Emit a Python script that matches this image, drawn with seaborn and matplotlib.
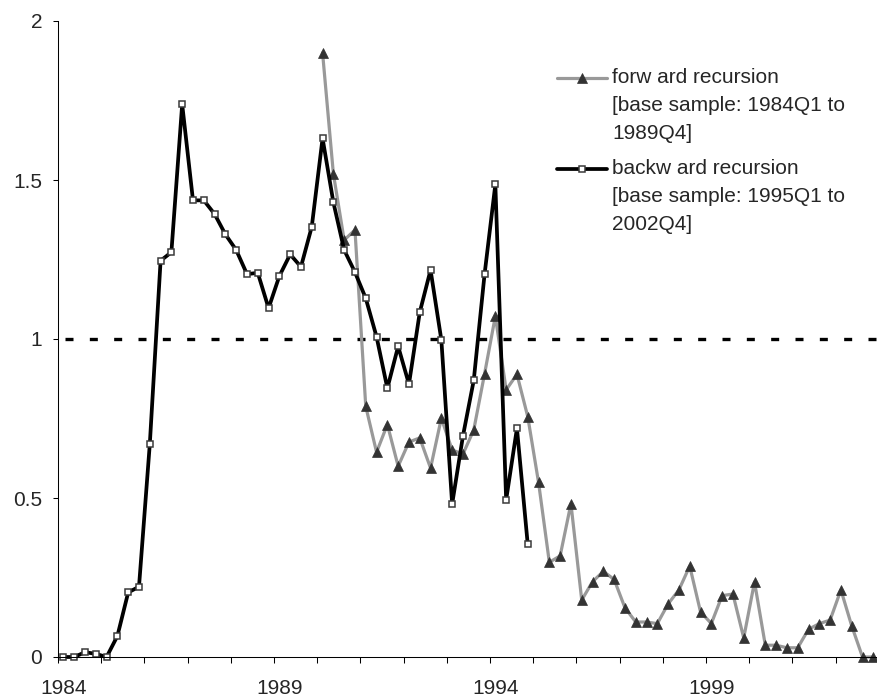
import numpy as np
import pandas as pd
import matplotlib
matplotlib.use("Agg")
import matplotlib.pyplot as plt
import seaborn as sns

# quarters are indexed 0 = 1984Q1 ... 75 = 2002Q4
year_ticks = [0, 20, 40, 60]
year_labels = ["1984", "1989", "1994", "1999"]
n_quarters = 76

# forward recursion, 1990Q1 .. 2002Q4
forward_start = 24
forward = [1.90, 1.52, 1.311, 1.343, 0.788, 0.644, 0.731, 0.600, 0.676, 0.689,
           0.594, 0.751, 0.651, 0.638, 0.714, 0.890, 1.072, 0.840, 0.889, 0.756,
           0.549, 0.298, 0.318, 0.482, 0.179, 0.237, 0.269, 0.244, 0.155, 0.110,
           0.110, 0.105, 0.167, 0.211, 0.286, 0.142, 0.105, 0.193, 0.198, 0.060,
           0.236, 0.037, 0.037, 0.029, 0.029, 0.087, 0.105, 0.116, 0.211, 0.098,
           0.0, 0.0]

# backward recursion, 1984Q1 .. 1994Q4
backward_start = 0
backward = [0.0, 0.0, 0.015, 0.01, 0.0, 0.066, 0.203, 0.221, 0.669, 1.246,
            1.273, 1.738, 1.436, 1.436, 1.393, 1.329, 1.280, 1.204, 1.208, 1.097,
            1.198, 1.266, 1.227, 1.353, 1.631, 1.430, 1.280, 1.210, 1.128, 1.007,
            0.845, 0.977, 0.858, 1.084, 1.217, 0.997, 0.481, 0.695, 0.870, 1.203,
            1.486, 0.494, 0.719, 0.354]

fwd_label = "forw ard recursion\n[base sample: 1984Q1 to\n1989Q4]"
bwd_label = "backw ard recursion\n[base sample: 1995Q1 to\n2002Q4]"

df_fwd = pd.DataFrame({"q": np.arange(forward_start, forward_start + len(forward)), "v": forward})
df_bwd = pd.DataFrame({"q": np.arange(backward_start, backward_start + len(backward)), "v": backward})

sns.set_style("ticks")
plt.rcParams["font.family"] = ["Liberation Sans", "DejaVu Sans"]
plt.rcParams["axes.edgecolor"] = "black"

fig = plt.figure(figsize=(8.77, 6.98), dpi=100)
ax = fig.add_axes([58 / 877, 41 / 698, 820.7 / 877, 636 / 698])

ax.axhline(1, color="black", linewidth=2.4, linestyle=(5.2, (2.4, 4.9)), zorder=1.5)

sns.lineplot(data=df_fwd, x="q", y="v", ax=ax, color="#999999", linewidth=2.3,
             marker="^", markersize=6.5, markerfacecolor="#333333",
             markeredgecolor="#333333", markeredgewidth=0.5,
             label=fwd_label, clip_on=False)
sns.lineplot(data=df_bwd, x="q", y="v", ax=ax, color="black", linewidth=2.7,
             marker="s", markersize=4.4, markerfacecolor="white",
             markeredgecolor="#3a3a3a", markeredgewidth=1.1,
             label=bwd_label, clip_on=False)

ax.set_xlim(-0.5, n_quarters - 0.5)
ax.set_ylim(0, 2)
ax.set_xlabel("")
ax.set_ylabel("")

ax.set_xticks(year_ticks, labels=year_labels)
ax.set_xticks(np.arange(-0.5, n_quarters, 4), minor=True)
ax.set_yticks([0, 0.5, 1, 1.5, 2], labels=["0", "0.5", "1", "1.5", "2"])
ax.tick_params(axis="x", which="major", length=0, pad=16, labelsize=15)
ax.tick_params(axis="x", which="minor", length=4.3, width=0.75, direction="out", color="black")
ax.tick_params(axis="y", which="major", length=3.6, width=0.75, pad=7.9, labelsize=15,
               direction="out", color="black")

sns.despine(ax=ax)
for side in ["left", "bottom"]:
    ax.spines[side].set_linewidth(0.75)
    ax.spines[side].set_color("black")

leg = ax.legend(loc="upper left", bbox_to_anchor=(557 / 877, 1 - 67.7 / 698),
                bbox_transform=fig.transFigure, frameon=False, fontsize=15,
                handlelength=2.4, handletextpad=0.24, handleheight=1.6,
                labelspacing=0.8, borderpad=0, borderaxespad=0, numpoints=1)
for t in leg.get_texts():
    t.set_linespacing(1.6)
# put the handle next to the first line of each label
for col in leg._legend_handle_box.get_children():
    for item in col.get_children():
        item.align = "top"

fig.savefig("out.png", dpi=100)
